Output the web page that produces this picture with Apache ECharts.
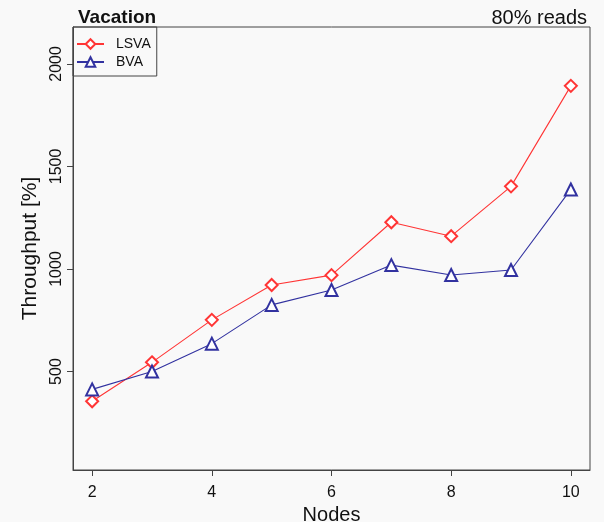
<!DOCTYPE html>
<html><head><meta charset="utf-8">
<script src="https://cdn.jsdelivr.net/npm/echarts@6/dist/echarts.min.js"></script>
<style>html,body{margin:0;padding:0;background:#f9f9f9}#c{width:604px;height:522px}</style>
</head><body><div id="c"></div>
<script>
const nodes = [2, 3, 4, 5, 6, 7, 8, 9, 10];
const lsva = [355, 545, 752, 922, 970, 1228, 1160, 1403, 1893];
const bva = [413, 500, 636, 825, 898, 1019, 971, 995, 1388];
const xTicks = [2, 4, 6, 8, 10];
const yTicks = [500, 1000, 1500, 2000];

const font = 'Liberation Sans, Arial, sans-serif';
const chart = echarts.init(document.getElementById('c'));
chart.setOption({
  backgroundColor: '#f9f9f9',
  animation: false,
  title: [
    {text: 'Vacation', left: 73, top: 3, textStyle: {fontFamily: font, fontSize: 19, fontWeight: 'bold', color: '#111'}},
    {text: '80% reads', right: 12, top: 3, textStyle: {fontFamily: font, fontSize: 20, fontWeight: 'normal', color: '#111'}}
  ],
  legend: {
    left: 73, top: 27, orient: 'vertical', itemGap: 4, itemWidth: 27, itemHeight: 12,
    padding: [10, 6, 7, 3], borderColor: '#444', borderWidth: 1, borderRadius: 0,
    textStyle: {fontFamily: font, fontSize: 14, color: '#111', padding: [0, 0, 0, 7]},
    data: ['LSVA', 'BVA']
  },
  grid: {left: 73, right: 14, top: 27, bottom: 52, show: true, borderColor: '#444', borderWidth: 1,
         backgroundColor: 'transparent', containLabel: false, outerBoundsMode: 'none'},
  xAxis: {
    type: 'value', min: 1.68, max: 10.32,
    name: 'Nodes', nameLocation: 'middle', nameGap: 29,
    nameTextStyle: {fontFamily: font, fontSize: 20, color: '#111'},
    axisLine: {show: true, lineStyle: {color: '#444'}},
    axisTick: {show: true, length: 6, customValues: xTicks, lineStyle: {color: '#444'}},
    axisLabel: {customValues: xTicks, fontFamily: font, fontSize: 16, color: '#111', margin: 15},
    splitLine: {show: false}
  },
  yAxis: {
    type: 'value', min: 20, max: 2180,
    name: 'Throughput [%]', nameLocation: 'middle', nameGap: 25,
    nameTextStyle: {fontFamily: font, fontSize: 21, color: '#111'},
    axisLine: {show: true, lineStyle: {color: '#444'}},
    axisTick: {show: true, length: 6, customValues: yTicks, lineStyle: {color: '#444'}},
    axisLabel: {customValues: yTicks, rotate: 90, fontFamily: font, fontSize: 16, color: '#111', margin: 8,
                formatter: v => String(v)},
    splitLine: {show: false}
  },
  series: [
    {name: 'LSVA', type: 'line', data: nodes.map((n, i) => [n, lsva[i]]),
     symbol: 'emptyDiamond', symbolSize: 12, color: '#ff3535',
     lineStyle: {width: 1.1, color: '#ff3535'}, itemStyle: {borderWidth: 1.1, color: '#ff3535'}},
    {name: 'BVA', type: 'line', data: nodes.map((n, i) => [n, bva[i]]),
     symbol: 'emptyTriangle', symbolSize: 12, color: '#3232a0',
     lineStyle: {width: 1.1, color: '#3232a0'}, itemStyle: {borderWidth: 1.1, color: '#3232a0'}}
  ]
});
</script></body></html>
